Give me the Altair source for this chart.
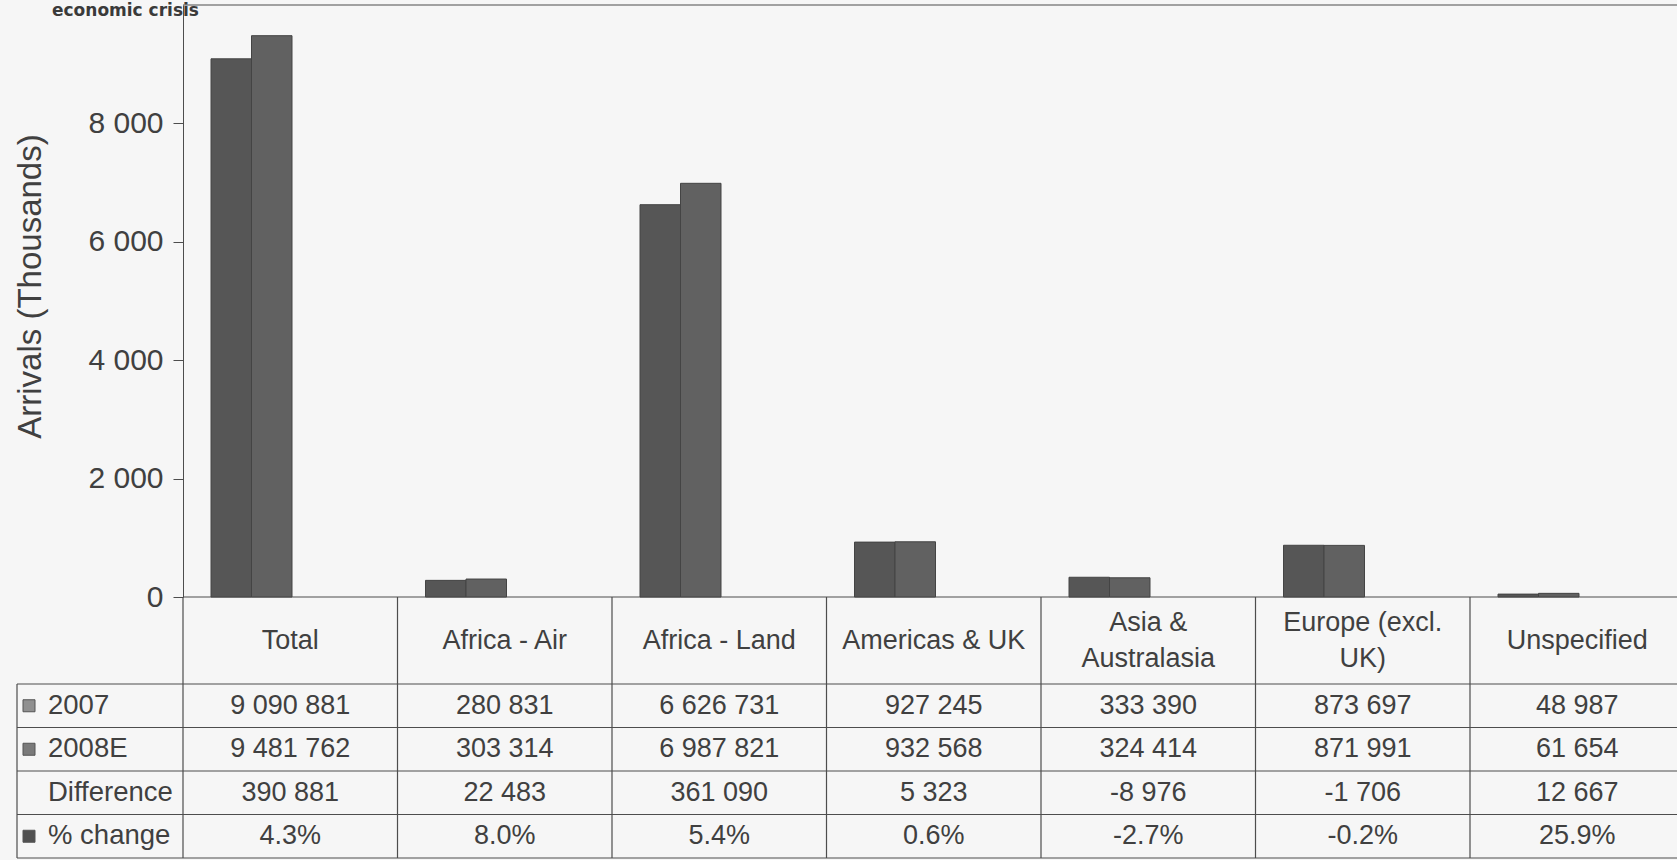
import altair as alt
import pandas as pd

# ---------------- data ----------------
CATEGORIES = ["Total", "Africa - Air", "Africa - Land", "Americas & UK",
              "Asia & Australasia", "Europe (excl. UK)", "Unspecified"]
HEADER_LABELS = ["Total", "Africa - Air", "Africa - Land", "Americas & UK",
                 "Asia &\nAustralasia", "Europe (excl.\nUK)", "Unspecified"]
YEARS = ["2007", "2008E"]
ARRIVALS_2007 = [9090881, 280831, 6626731, 927245, 333390, 873697, 48987]
ARRIVALS_2008E = [9481762, 303314, 6987821, 932568, 324414, 871991, 61654]
DIFFERENCE = [390881, 22483, 361090, 5323, -8976, -1706, 12667]
PCT_CHANGE = ["4.3%", "8.0%", "5.4%", "0.6%", "-2.7%", "-0.2%", "25.9%"]
ROW_LABELS = ["2007", "2008E", "Difference", "% change"]
Y_TICKS = [0, 2000, 4000, 6000, 8000]
Y_MAX = 10000
CORNER_NOTE = "economic crisis"

# ---------------- styling / layout ----------------
FONT = "Liberation Sans"
TXT = "#404040"
LINE = "#4d4d4d"
BG = "#f6f6f6"
BAR_COLORS = ["#565656", "#616161"]
ICON_COLORS = {"2007": "#909090", "2008E": "#7a7a7a", "% change": "#505050"}

PLOT_W = 1494          # visible plot width
COL_W = 214.5          # width of one category column
NCOL = len(CATEGORIES)
X_RANGE = COL_W * NCOL
PLOT_H = 592
ROW_H = 43.5
TABLE_UNITS = 6        # header = 2 units, 4 body rows = 1 unit each
TABLE_H = ROW_H * TABLE_UNITS
LABEL_COL = -166 / COL_W   # left edge of the row-label column (column units)
GROUP_LEFT = 28        # px from column edge to first bar
BAR_W = 40.5
TABLE_FS = 27


def fmt(v):
    return f"{v:,}".replace(",", " ")


# ---------------- data frames ----------------
bar_df = pd.DataFrame(
    [{"category": c, "year": "2007", "value": v / 1000} for c, v in zip(CATEGORIES, ARRIVALS_2007)]
    + [{"category": c, "year": "2008E", "value": v / 1000} for c, v in zip(CATEGORIES, ARRIVALS_2008E)]
)

header_df = pd.DataFrame({"col": [i + 0.5 for i in range(NCOL)], "row": 1.0, "label": HEADER_LABELS})
header_df["lines"] = header_df["label"].str.count("\n") + 1
header1_df = header_df[header_df["lines"] == 1]
header2_df = header_df[header_df["lines"] == 2]

body_texts = [
    [fmt(v) for v in ARRIVALS_2007],
    [fmt(v) for v in ARRIVALS_2008E],
    [fmt(v) for v in DIFFERENCE],
    PCT_CHANGE,
]
cell_df = pd.DataFrame(
    [{"col": i + 0.5, "row": 2.5 + r, "text": t}
     for r, texts in enumerate(body_texts) for i, t in enumerate(texts)]
)

rowlab_df = pd.DataFrame({
    "label": ROW_LABELS,
    "row": [2.5 + r for r in range(len(ROW_LABELS))],
    "col": LABEL_COL + 31 / COL_W,
})
icon_df = pd.DataFrame({
    "label": [k for k in ICON_COLORS],
    "row": [2.5 + ROW_LABELS.index(k) for k in ICON_COLORS],
    "col": LABEL_COL + 12 / COL_W,
})

segs = []
for y in range(2, TABLE_UNITS + 1):
    segs.append({"x": LABEL_COL, "x2": NCOL, "y": y, "y2": y})
for i in range(NCOL):
    segs.append({"x": i, "x2": i, "y": 0, "y2": TABLE_UNITS})
segs.append({"x": LABEL_COL, "x2": LABEL_COL, "y": 2, "y2": TABLE_UNITS})
seg_df = pd.DataFrame(segs)

rule_df = pd.DataFrame({"v": [0, Y_MAX]})
note_df = pd.DataFrame({"text": [CORNER_NOTE], "col": [-131 / COL_W], "v": [Y_MAX]})

# ---------------- scales ----------------
def tx():
    return alt.Scale(domain=[0, NCOL], range=[0, X_RANGE], nice=False, zero=False)


def ty():
    return alt.Scale(domain=[0, TABLE_UNITS], range=[PLOT_H, PLOT_H + TABLE_H], nice=False, zero=False)


def vy():
    return alt.Scale(domain=[0, Y_MAX], nice=False)


# ---------------- layers ----------------
bars = alt.Chart(bar_df).mark_bar(stroke="#444444", strokeWidth=1).encode(
    x=alt.X("category:N", sort=CATEGORIES,
            scale=alt.Scale(domain=CATEGORIES, range=[0, X_RANGE], paddingInner=0, paddingOuter=0),
            axis=None),
    xOffset=alt.XOffset("year:N", sort=YEARS,
                        scale=alt.Scale(domain=YEARS, range=[GROUP_LEFT, GROUP_LEFT + 2 * BAR_W],
                                        paddingInner=0, paddingOuter=0)),
    y=alt.Y("value:Q", scale=vy(),
            axis=alt.Axis(values=Y_TICKS,
                          labelExpr="replace(format(datum.value, ','), ',', ' ')",
                          labelFont=FONT, labelFontSize=30, labelColor=TXT, labelPadding=10,
                          tickSize=10, tickColor=LINE, domainColor=LINE, grid=False,
                          title="Arrivals (Thousands)", titleFont=FONT, titleFontSize=33,
                          titleFontWeight="normal", titleColor=TXT,
                          titleX=-153, titleY=281, titleBaseline="middle")),
    color=alt.Color("year:N", scale=alt.Scale(domain=YEARS, range=BAR_COLORS), legend=None),
)

hrules = alt.Chart(rule_df).mark_rule(color=LINE, strokeWidth=1.2).encode(
    y=alt.Y("v:Q", scale=vy(), axis=None)
)

note = alt.Chart(note_df).mark_text(
    font="DejaVu Sans", fontSize=17, fontWeight="bold", color="#3a3a3a",
    align="left", baseline="alphabetic", dy=11
).encode(
    x=alt.X("col:Q", scale=tx(), axis=None),
    y=alt.Y("v:Q", scale=vy(), axis=None),
    text="text:N",
)

grid = alt.Chart(seg_df).mark_rule(color=LINE, strokeWidth=1.2).encode(
    x=alt.X("x:Q", scale=tx(), axis=None),
    x2="x2:Q",
    y=alt.Y("y:Q", scale=ty(), axis=None),
    y2="y2:Q",
)

header1 = alt.Chart(header1_df).mark_text(
    font=FONT, fontSize=TABLE_FS, color=TXT, baseline="middle", align="center"
).encode(
    x=alt.X("col:Q", scale=tx(), axis=None),
    y=alt.Y("row:Q", scale=ty(), axis=None),
    text="label:N",
)

header2 = alt.Chart(header2_df).mark_text(
    font=FONT, fontSize=TABLE_FS, color=TXT, lineBreak="\n", lineHeight=36,
    baseline="middle", align="center", dy=-18
).encode(
    x=alt.X("col:Q", scale=tx(), axis=None),
    y=alt.Y("row:Q", scale=ty(), axis=None),
    text="label:N",
)

cells = alt.Chart(cell_df).mark_text(
    font=FONT, fontSize=TABLE_FS, color=TXT, baseline="middle", align="center"
).encode(
    x=alt.X("col:Q", scale=tx(), axis=None),
    y=alt.Y("row:Q", scale=ty(), axis=None),
    text="text:N",
)

rowlabels = alt.Chart(rowlab_df).mark_text(
    font=FONT, fontSize=27.5, color=TXT, baseline="middle", align="left"
).encode(
    x=alt.X("col:Q", scale=tx(), axis=None),
    y=alt.Y("row:Q", scale=ty(), axis=None),
    text="label:N",
)

icons = alt.Chart(icon_df).mark_square(size=144, opacity=1, stroke="#555555", strokeWidth=1).encode(
    x=alt.X("col:Q", scale=tx(), axis=None),
    y=alt.Y("row:Q", scale=ty(), axis=None),
    color=alt.Color("label:N", scale=alt.Scale(domain=list(ICON_COLORS), range=list(ICON_COLORS.values())),
                    legend=None),
)

chart = alt.layer(hrules, grid, bars, note, header1, header2, cells, rowlabels, icons).resolve_scale(
    x="independent", y="independent", color="independent"
).properties(
    width=PLOT_W,
    height=PLOT_H,
    padding={"left": 183, "top": 5, "right": 0, "bottom": 860 - 5 - PLOT_H},
    autosize=alt.AutoSizeParams(type="none"),
    background=BG,
).configure_view(stroke=None)

chart.save("out.html", embed_options={"renderer": "svg", "actions": False})
